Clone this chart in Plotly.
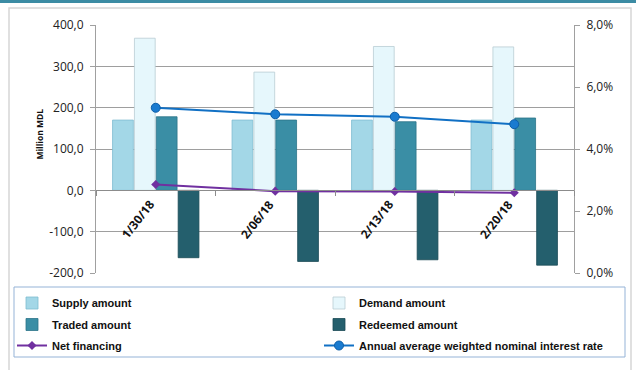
import plotly.graph_objects as go

# ---- data ----
categories = ["1/30/18", "2/06/18", "2/13/18", "2/20/18"]
supply = [170, 170, 170, 170]
demand = [368, 286, 348, 347]
traded = [178, 170, 166, 175]
redeemed = [-163, -172, -168, -181]
net_financing = [14, -2, -3, -6]
interest_rate = [5.33, 5.12, 5.04, 4.80]

left_ticks = [-200, -100, 0, 100, 200, 300, 400]
left_ticktext = ["-200,0", "-100,0", "0,0", "100,0", "200,0", "300,0", "400,0"]
right_ticks = [0, 2, 4, 6, 8]
right_ticktext = ["0,0%", "2,0%", "4,0%", "6,0%", "8,0%"]

W, H = 636, 370
ML, MR, MT, MB = 96, 62, 25, 97
PW, PH = W - ML - MR, H - MT - MB


def px(xp):
    return (xp - ML) / PW


def py(yp):
    return (H - MB - yp) / PH


fig = go.Figure()

bar_specs = [
    ("Supply amount", supply, "#A3D7E7", "#7FBCD0", "legend"),
    ("Demand amount", demand, "#E6F7FC", "#B9CDD3", "legend2"),
    ("Traded amount", traded, "#3A8EA5", "#2C7389", "legend3"),
    ("Redeemed amount", redeemed, "#245F6D", "#1B4A55", "legend4"),
]
for name, vals, col, lc, lg in bar_specs:
    fig.add_trace(go.Bar(
        x=categories, y=vals, name=name, legend=lg,
        marker=dict(color=col, line=dict(color=lc, width=0.8)),
    ))

fig.add_trace(go.Scatter(
    x=categories, y=net_financing, name="Net financing", legend="legend5",
    mode="lines+markers",
    line=dict(color="#7030A0", width=2),
    marker=dict(symbol="diamond", size=7, color="#7030A0"),
))
fig.add_trace(go.Scatter(
    x=categories, y=interest_rate, name="Annual average weighted nominal interest rate",
    legend="legend6", yaxis="y2",
    mode="lines+markers",
    line=dict(color="#1170C4", width=2),
    marker=dict(symbol="circle", size=9, color="#1A7BD0", line=dict(color="#0E5FA8", width=1)),
))

ymin, ymax = left_ticks[0], left_ticks[-1]
axis_gray = "#A0A0A0"
tick_font = dict(family="Open Sans", size=12, color="#222222")

legend_common = dict(
    orientation="h", xanchor="left", yanchor="middle",
    bgcolor="rgba(0,0,0,0)", borderwidth=0,
    font=dict(family="Liberation Sans", size=11, color="#111111", weight="bold"),
)
col_x = [px(12), px(319)]
row_y = [py(303), py(324.5), py(345.5)]

annotations = [
    dict(x=c, y=0, xref="x", yref="y", text=c, showarrow=False,
         textangle=-52, xanchor="right", yanchor="top", xshift=5, yshift=-4,
         font=dict(family="Open Sans", size=12, color="#111111", weight="bold"))
    for c in categories
]
annotations.append(dict(
    x=px(31), y=py(134), xref="paper", yref="paper", text="Million MDL",
    showarrow=False, textangle=-90,
    font=dict(family="Open Sans", size=8.5, color="#111111", weight="bold")))

shapes = [
    dict(type="rect", xref="paper", yref="paper", x0=px(0), x1=px(W), y0=py(3), y1=py(0),
         fillcolor="#3C8CA4", line=dict(width=0), layer="below"),
    dict(type="rect", xref="paper", yref="paper", x0=px(9), x1=px(631), y0=py(380), y1=py(8),
         fillcolor="rgba(0,0,0,0)", line=dict(color="#D6D6D6", width=1.5), layer="below"),
    dict(type="rect", xref="paper", yref="paper", x0=px(14), x1=px(625), y0=py(357), y1=py(287),
         fillcolor="rgba(0,0,0,0)", line=dict(color="#95B3D7", width=1)),
]

fig.update_layout(
    width=W, height=H,
    margin=dict(l=ML, r=MR, t=MT, b=MB, autoexpand=False),
    paper_bgcolor="white", plot_bgcolor="white",
    barmode="group", bargap=0.268, bargroupgap=0.05,
    showlegend=True,
    xaxis=dict(
        type="category", anchor="free", position=(0 - ymin) / (ymax - ymin),
        showline=True, linecolor="#8C8C8C", linewidth=1,
        ticks="outside", ticklen=5, tickcolor="#8C8C8C", tickson="boundaries",
        showticklabels=False, showgrid=False, zeroline=False,
    ),
    yaxis=dict(
        range=[ymin, ymax], tickvals=left_ticks, ticktext=left_ticktext,
        showline=True, linecolor=axis_gray, linewidth=1,
        ticks="outside", ticklen=5, tickcolor=axis_gray,
        showgrid=True, gridcolor="#9E9E9E", gridwidth=1, zeroline=False,
        tickfont=tick_font, ticklabelstandoff=4,
    ),
    yaxis2=dict(
        range=[right_ticks[0], right_ticks[-1]], tickvals=right_ticks, ticktext=right_ticktext,
        overlaying="y", side="right",
        showline=True, linecolor=axis_gray, linewidth=1,
        ticks="outside", ticklen=5, tickcolor=axis_gray,
        showgrid=False, zeroline=False, tickfont=tick_font, ticklabelstandoff=4,
    ),
    legend=dict(legend_common, x=col_x[0], y=row_y[0]),
    legend2=dict(legend_common, x=col_x[1], y=row_y[0]),
    legend3=dict(legend_common, x=col_x[0], y=row_y[1]),
    legend4=dict(legend_common, x=col_x[1], y=row_y[1]),
    legend5=dict(legend_common, x=col_x[0], y=row_y[2]),
    legend6=dict(legend_common, x=col_x[1], y=row_y[2]),
    annotations=annotations,
    shapes=shapes,
)

fig.write_html("out.html")
